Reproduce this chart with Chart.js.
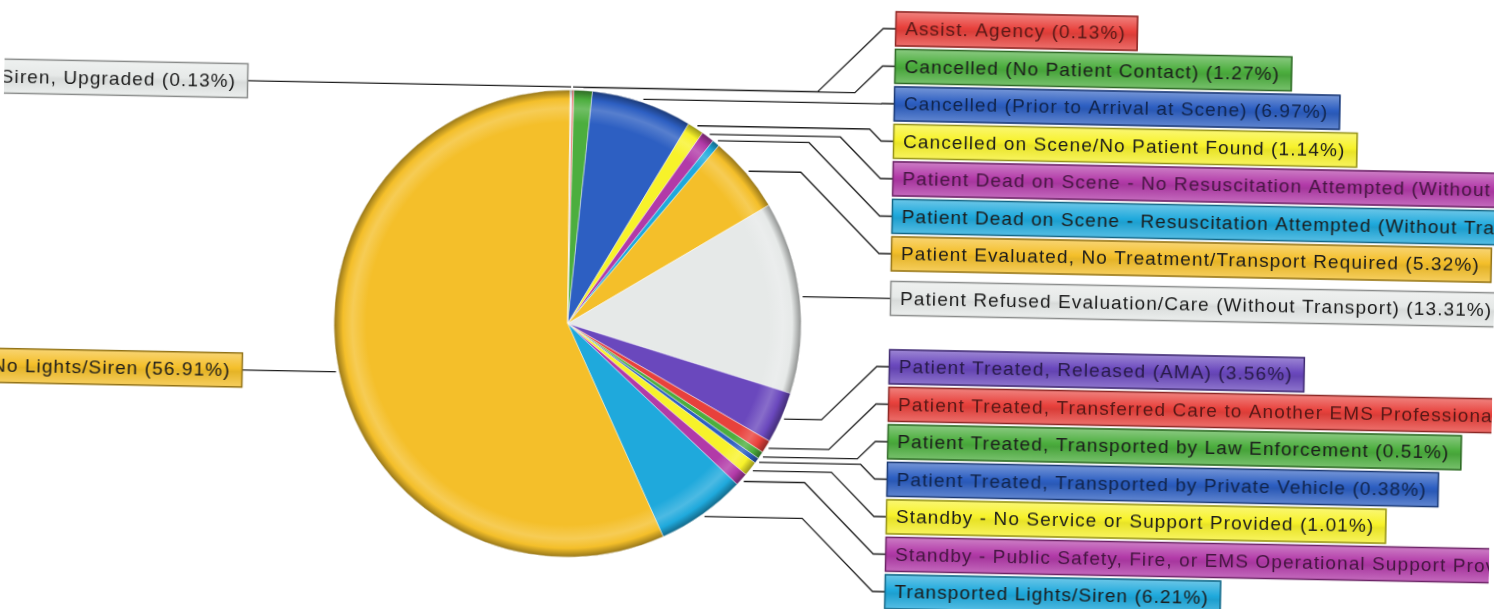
<!DOCTYPE html>
<html>
<head>
<meta charset="utf-8">
<script src="https://cdn.jsdelivr.net/npm/chart.js@4/dist/chart.umd.min.js"></script>
<style>
  html, body { margin: 0; padding: 0; background: #fff; overflow: hidden; }
  #wrap { width: 1494px; height: 609px; position: relative; transform: rotate(1.1deg); transform-origin: 747px 304px; }
</style>
</head>
<body>
<div id="wrap"><canvas id="pieChart"></canvas></div>
<script>
// categories, clockwise from 12 o'clock
const categories = [
  "Assist. Agency",
  "Cancelled (No Patient Contact)",
  "Cancelled (Prior to Arrival at Scene)",
  "Cancelled on Scene/No Patient Found",
  "Patient Dead on Scene - No Resuscitation Attempted (Without Transport)",
  "Patient Dead on Scene - Resuscitation Attempted (Without Transport)",
  "Patient Evaluated, No Treatment/Transport Required",
  "Patient Refused Evaluation/Care (Without Transport)",
  "Patient Treated, Released (AMA)",
  "Patient Treated, Transferred Care to Another EMS Professional",
  "Patient Treated, Transported by Law Enforcement",
  "Patient Treated, Transported by Private Vehicle",
  "Standby - No Service or Support Provided",
  "Standby - Public Safety, Fire, or EMS Operational Support Provided",
  "Transported Lights/Siren",
  "Transported No Lights/Siren",
  "Transported No Lights/Siren, Upgraded"
];

// percent of calls
const percentValues = [
  0.13, 1.27, 6.97, 1.14, 0.89, 0.51, 5.32, 13.31, 3.56,
  0.89, 0.51, 0.38, 1.01, 0.89, 6.21, 56.91, 0.13
];

// colour cycle used by the original chart
const palette = ["#e8413c", "#4cae3e", "#2d5fc2", "#f7f22a", "#b23aa8",
                 "#1fa9dc", "#f4bf2a", "#e6e9e8", "#6a48bd"];
const sliceColors = categories.map((c, i) => palette[i % palette.length]);

function rgb(hex) {
  const n = parseInt(hex.slice(1), 16);
  return [(n >> 16) & 255, (n >> 8) & 255, n & 255];
}
function mix(hex, other, t) {
  const a = rgb(hex), b = rgb(other);
  const c = a.map((v, k) => Math.round(v + (b[k] - v) * t));
  return "rgb(" + c.join(",") + ")";
}
function luma(hex) {
  const c = rgb(hex);
  return (0.299 * c[0] + 0.587 * c[1] + 0.114 * c[2]) / 255;
}

const gradCache = {};
function sliceFill(context) {
  const chart = context.chart;
  const area = chart.chartArea;
  const base = sliceColors[context.dataIndex];
  if (!area) return base;
  const key = context.dataIndex + ":" + area.width + ":" + area.height;
  if (gradCache[key]) return gradCache[key];
  const cx = (area.left + area.right) / 2;
  const cy = (area.top + area.bottom) / 2;
  const r = Math.min(area.width, area.height) / 2;
  const g = chart.ctx.createRadialGradient(cx, cy, 0, cx, cy, r);
  g.addColorStop(0, base);
  g.addColorStop(0.86, base);
  g.addColorStop(0.92, mix(base, "#ffffff", 0.2));
  g.addColorStop(0.96, base);
  g.addColorStop(1, mix(base, "#000000", 0.4));
  gradCache[key] = g;
  return g;
}

function drawBox(ctx, x, y, w, h, color) {
  const g = ctx.createLinearGradient(0, y, 0, y + h);
  g.addColorStop(0, mix(color, "#ffffff", 0.35));
  g.addColorStop(0.45, color);
  g.addColorStop(0.55, mix(color, "#000000", 0.06));
  g.addColorStop(1, mix(color, "#ffffff", 0.25));
  ctx.fillStyle = g;
  ctx.fillRect(x, y, w, h);
  ctx.lineWidth = 1.5;
  ctx.strokeStyle = mix(color, "#000000", 0.4);
  ctx.strokeRect(x + 0.5, y + 0.5, w - 1, h - 1);
}

const sideLabels = {
  id: "sideLabels",
  afterDraw(chart) {
    const ctx = chart.ctx;
    const meta = chart.getDatasetMeta(0);
    const boxH = 35, gap = 37.5, top = 26, bottom = 589;
    const rightX = 890, leftEdge = 244;

    const items = meta.data.map((arc, i) => {
      const p = arc.getProps(["x", "y", "startAngle", "endAngle", "outerRadius"], true);
      const mid = (p.startAngle + p.endAngle) / 2;
      const r = p.outerRadius + 3;
      return {
        i,
        cx: p.x, cy: p.y, R: p.outerRadius,
        ax: p.x + Math.cos(mid) * r,
        ay: p.y + Math.sin(mid) * r,
        right: Math.cos(mid) >= 0,
        text: categories[i] + " (" + percentValues[i].toFixed(2) + "%)"
      };
    });

    // right column: upper labels stack from the top, lower ones from the bottom
    const right = items.filter(d => d.right).sort((a, b) => a.ay - b.ay);
    const cy = items[0].cy, R = items[0].R;
    const upper = right.filter(d => d.ay < cy - 0.3 * R);
    const lower = right.filter(d => d.ay > cy + 0.3 * R);
    right.forEach(d => { d.ly = d.ay; });
    upper.forEach((d, k) => { d.ly = top + k * gap; });
    lower.forEach((d, k) => { d.ly = bottom - (lower.length - 1 - k) * gap; });
    items.filter(d => !d.right).forEach(d => { d.ly = d.ay; });

    ctx.save();
    ctx.font = "19px 'Liberation Sans', Arial, sans-serif";
    if ("letterSpacing" in ctx) ctx.letterSpacing = "1.1px";
    ctx.textBaseline = "middle";

    items.forEach(d => {
      const color = sliceColors[d.i];
      const tw = ctx.measureText(d.text).width;
      const w = tw + 22;
      const bx = d.right ? rightX : leftEdge - w;

      // leader line
      ctx.beginPath();
      ctx.lineWidth = 1.3;
      ctx.strokeStyle = "#1e1e1e";
      if (d.right) {
        const dy = Math.abs(d.ly - d.ay);
        const endX = rightX - 12;
        const elbow = Math.max(d.ax + 8, endX - dy);
        ctx.moveTo(d.ax, d.ay);
        ctx.lineTo(Math.min(elbow, endX), d.ay);
        ctx.lineTo(endX, d.ly);
        ctx.lineTo(rightX, d.ly);
      } else {
        ctx.moveTo(d.ax, d.ay);
        ctx.lineTo(leftEdge, d.ly);
      }
      ctx.stroke();

      drawBox(ctx, bx, d.ly - boxH / 2, w, boxH, color);
      ctx.fillStyle = luma(color) < 0.5 ? mix(color, "#000000", 0.62) : "#1c1c1c";
      ctx.fillText(d.text, bx + 10, d.ly + 1);
    });
    ctx.restore();
  }
};

new Chart(document.getElementById("pieChart"), {
  type: "pie",
  data: {
    labels: categories,
    datasets: [{
      data: percentValues,
      backgroundColor: sliceFill,
      borderColor: "rgba(255,255,255,0.55)",
      borderWidth: 0.8
    }]
  },
  options: {
    responsive: true,
    maintainAspectRatio: false,
    animation: false,
    layout: { padding: { left: 334, right: 692, top: 93, bottom: 48 } },
    plugins: {
      legend: { display: false },
      tooltip: { enabled: false }
    }
  },
  plugins: [sideLabels]
});
</script>
</body>
</html>
